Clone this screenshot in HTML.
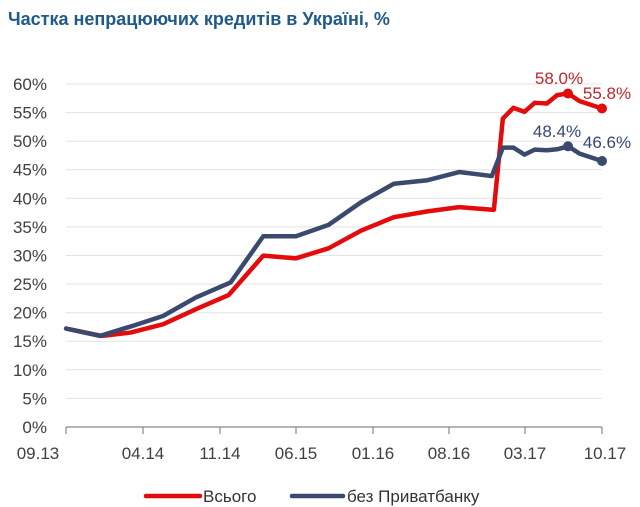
<!DOCTYPE html>
<html><head><meta charset="utf-8"><style>
html,body{margin:0;padding:0;background:#fff;width:640px;height:507px;overflow:hidden}
svg{display:block}
text{font-family:"Liberation Sans","DejaVu Sans",sans-serif}
</style></head><body>
<svg width="640" height="507" viewBox="0 0 640 507">
<text x="8" y="25" font-size="18" font-weight="bold" fill="#1f5a8a">Частка непрацюючих кредитів в Україні, %</text>
<g stroke="#e3e3e3" stroke-width="1">
<line x1="66" x2="602" y1="84" y2="84"/><line x1="66" x2="602" y1="112.6" y2="112.6"/><line x1="66" x2="602" y1="141.2" y2="141.2"/><line x1="66" x2="602" y1="169.7" y2="169.7"/><line x1="66" x2="602" y1="198.3" y2="198.3"/><line x1="66" x2="602" y1="226.9" y2="226.9"/><line x1="66" x2="602" y1="255.5" y2="255.5"/><line x1="66" x2="602" y1="284.1" y2="284.1"/><line x1="66" x2="602" y1="312.7" y2="312.7"/><line x1="66" x2="602" y1="341.2" y2="341.2"/><line x1="66" x2="602" y1="369.8" y2="369.8"/><line x1="66" x2="602" y1="398.4" y2="398.4"/>
</g>
<g stroke="#888" stroke-width="1.2">
<line x1="66" x2="602" y1="427" y2="427"/>
<line x1="66" x2="66" y1="427" y2="434"/><line x1="143" x2="143" y1="427" y2="434"/><line x1="220" x2="220" y1="427" y2="434"/><line x1="296" x2="296" y1="427" y2="434"/><line x1="373" x2="373" y1="427" y2="434"/><line x1="449" x2="449" y1="427" y2="434"/><line x1="525" x2="525" y1="427" y2="434"/><line x1="602" x2="602" y1="427" y2="434"/>
</g>
<g font-size="17" fill="#404040" text-anchor="end">
<text x="47" y="90">60%</text><text x="47" y="118.6">55%</text><text x="47" y="147.2">50%</text><text x="47" y="175.7">45%</text><text x="47" y="204.3">40%</text><text x="47" y="232.9">35%</text><text x="47" y="261.5">30%</text><text x="47" y="290.1">25%</text><text x="47" y="318.7">20%</text><text x="47" y="347.2">15%</text><text x="47" y="375.8">10%</text><text x="47" y="404.4">5%</text><text x="47" y="433">0%</text>
</g>
<g font-size="17" fill="#404040" text-anchor="middle">
<text x="38" y="459">09.13</text><text x="143" y="459">04.14</text><text x="220" y="459">11.14</text><text x="296" y="459">06.15</text><text x="373" y="459">01.16</text><text x="449" y="459">08.16</text><text x="525" y="459">03.17</text><text x="605" y="459">10.17</text>
</g>
<g transform="translate(0,60) scale(0.40816,0.33445)" fill="none" stroke-linejoin="round" stroke-linecap="round">
<polyline vector-effect="non-scaling-stroke" stroke="#e30b0b" stroke-width="4.5" points="162,803 250,825 320,815 400,790 480,745 560,703 645,585 725,593 805,563 885,510 965,470 1045,453 1125,440 1210,448 1232,175 1258,143 1285,155 1310,128 1340,130 1365,105 1392,100 1420,123 1475,145"/>
<polyline vector-effect="non-scaling-stroke" stroke="#3a4a6e" stroke-width="4.5" points="162,803 245,825 330,793 400,765 480,710 565,665 645,527 725,527 805,493 885,425 965,370 1045,360 1125,335 1205,347 1232,262 1258,262 1285,283 1310,268 1340,270 1365,267 1392,258 1420,280 1475,302"/>
</g>
<circle cx="568" cy="93.5" r="5" fill="#e30b0b"/><circle cx="602" cy="108.5" r="5" fill="#e30b0b"/>
<circle cx="568" cy="146.3" r="5" fill="#3a4a6e"/><circle cx="602" cy="161" r="5" fill="#3a4a6e"/>
<g font-size="17" text-anchor="middle">
<text x="559" y="84" fill="#c0262d">58.0%</text><text x="607" y="99" fill="#c0262d">55.8%</text>
<text x="557" y="137" fill="#344872">48.4%</text><text x="607" y="148" fill="#344872">46.6%</text>
</g>
<line x1="146" x2="200" y1="496" y2="496" stroke="#e30b0b" stroke-width="4.5" stroke-linecap="round"/>
<text x="203" y="502" font-size="17" fill="#333">Всього</text>
<line x1="292" x2="343" y1="496" y2="496" stroke="#3a4a6e" stroke-width="4.5" stroke-linecap="round"/>
<text x="347" y="502" font-size="17" fill="#333">без Приватбанку</text>
</svg>
</body></html>
